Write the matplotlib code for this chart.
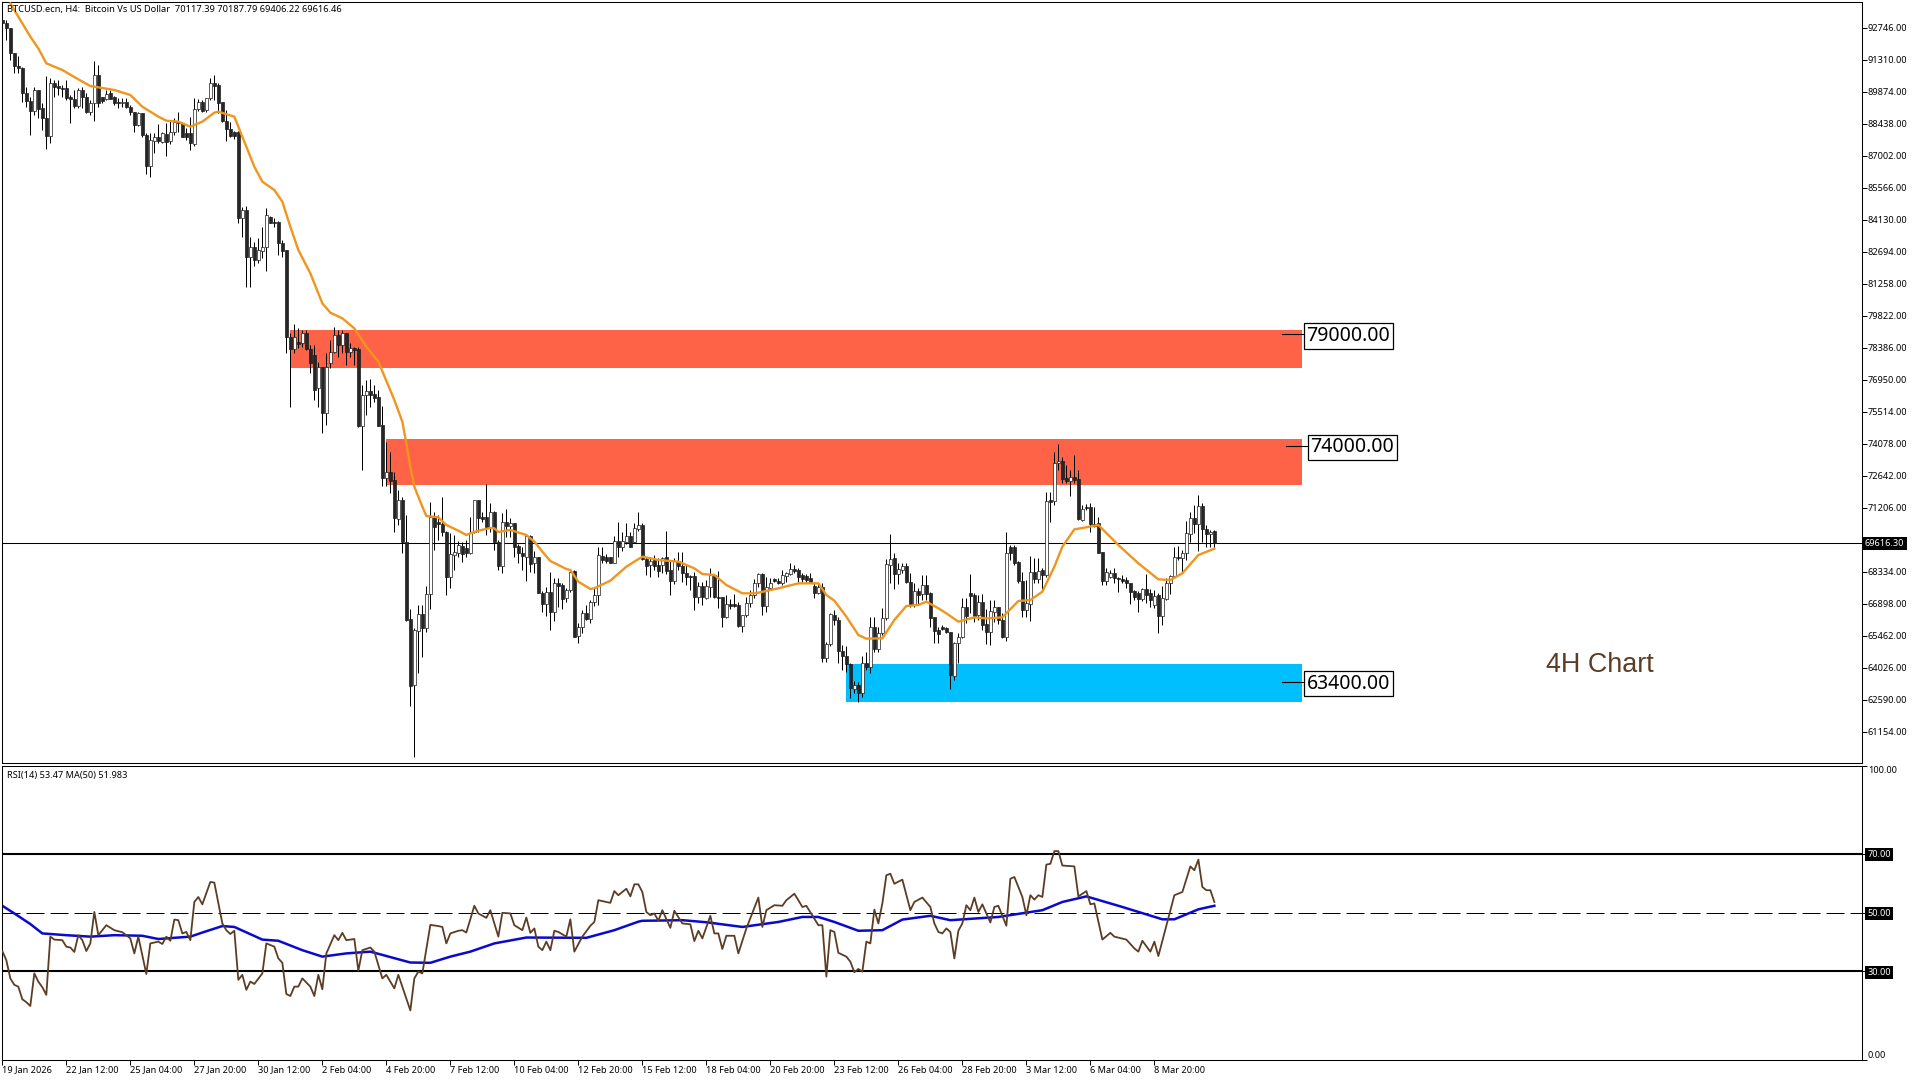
import matplotlib
matplotlib.use("Agg")
import matplotlib.pyplot as plt
from matplotlib.patches import Rectangle

plt.rcParams['font.family'] = ['Noto Sans', 'DejaVu Sans']

opens = [
    93105, 92985, 92731, 91639, 91055, 90965, 89814, 89470, 89036, 89963,
    89141, 88692, 87914, 90262, 90143, 90038, 90038, 89634, 89544, 89260,
    89963, 89634, 88991, 89365, 90622, 89634, 89544, 89814, 89664, 89425,
    89365, 89440, 89215, 88991, 88393, 88946, 87944, 86568, 87690, 87869,
    87645, 87989, 87660, 88064, 88542, 88468, 88019, 88019, 87540, 89111,
    89410, 89066, 89589, 90262, 90188, 89440, 88587, 88198, 88064, 88064,
    84204, 84578, 82484, 82933, 82335, 82754, 82933, 84279, 84055, 84055,
    83113, 82784, 78894, 78326, 78655, 78625, 79044, 78326, 78072, 76606,
    77548, 75454, 77698, 78221, 78969, 78521, 79044, 78221, 78371, 78326,
    74900, 76277, 76471, 76322, 76172, 74930, 72567, 72806, 72462, 70712,
    71565, 69695, 66210, 63263, 65701, 66434, 65806, 67331, 70787, 70577,
    70473, 70143, 68124, 69111, 69171, 69500, 69396, 69201, 70143, 71565,
    70787, 70787, 70338, 71041, 69665, 68618, 70592, 70398, 70517, 69500,
    69171, 69022, 69949, 68723, 68992, 67406, 66883, 67451, 66524, 67825,
    67735, 67152, 67526, 68394, 65462, 65850, 66479, 66210, 66972, 67301,
    69067, 68992, 68992, 68752, 69710, 69470, 69695, 69949, 69695, 70248,
    70443, 68902, 68648, 68872, 68648, 68648, 68992, 68423, 67930, 68842,
    68618, 68274, 68154, 68154, 67227, 67705, 67182, 67645, 68199, 67227,
    67227, 66329, 66883, 66898, 66853, 65925, 66404, 66928, 67286, 67825,
    68244, 66823, 67631, 68019, 67945, 67825, 68169, 68244, 68453, 68423,
    68199, 68154, 68049, 67705, 67376, 67645, 64460, 65088, 66404, 66180,
    64804, 64579, 64190, 63083, 63263, 62919, 64235, 64055, 65880, 64878,
    65581, 66254, 68648, 68947, 68244, 68423, 68603, 67900, 66853, 67481,
    67346, 67750, 67406, 66329, 65731, 65880, 65806, 65626, 63682, 65133,
    65432, 66748, 67376, 67301, 66404, 67002, 65985, 65656, 66554, 66748,
    66180, 65432, 69470, 69470, 68767, 67945, 66628, 66898, 68319, 68019,
    68423, 68199, 71565, 71520, 73240, 73330, 72537, 72417, 72612, 72492,
    70667, 71265, 71265, 70488, 70548, 69246, 67930, 68124, 68274, 68049,
    68019, 67975, 67825, 67481, 67376, 67122, 67571, 67406, 66853, 67302,
    66374, 67122, 67825, 68154, 68992, 68947, 69171, 70039, 70742, 70488,
    71295, 70248, 70039, 70173,
]
highs = [
    93329, 93105, 92731, 91639, 91489, 91010, 90113, 89664, 90113, 89963,
    89365, 90592, 90487, 90412, 90412, 90188, 90412, 89739, 89963, 90038,
    90083, 89814, 89515, 91265, 91085, 89664, 89963, 89963, 89694, 89589,
    89589, 89589, 89290, 88991, 88991, 88946, 88019, 88019, 88019, 88438,
    88094, 88468, 88587, 88692, 88991, 88542, 88243, 88767, 89589, 89559,
    89515, 89589, 90487, 90637, 90262, 89440, 89066, 88542, 88138, 88138,
    84728, 84758, 83352, 83157, 83307, 83800, 84653, 84309, 84205, 84100,
    83232, 82784, 79044, 79463, 79268, 79193, 79193, 78520, 78520, 77773,
    77548, 78146, 78745, 79343, 79193, 79193, 79044, 78595, 78446, 78446,
    76726, 76950, 76980, 76726, 76501, 75783, 74182, 73734, 72836, 72013,
    71714, 70891, 66658, 65806, 66853, 66853, 67705, 71490, 71041, 70891,
    71684, 70188, 70069, 69994, 69740, 69695, 69770, 70817, 71565, 71565,
    71041, 72268, 71445, 71086, 69770, 70966, 71146, 70742, 70547, 69590,
    69470, 69994, 69994, 69291, 68992, 67496, 67676, 68349, 68049, 68049,
    67855, 67601, 68423, 68423, 66030, 66628, 66853, 67077, 67676, 69470,
    69440, 69141, 69022, 69949, 70592, 70143, 70518, 70143, 70547, 71026,
    70547, 69022, 69022, 69096, 68947, 69022, 70174, 68872, 68947, 69246,
    69246, 68648, 68199, 68319, 67900, 67900, 67975, 68498, 68244, 68379,
    67227, 67301, 67122, 67346, 67002, 66404, 67227, 67526, 68004, 68274,
    68304, 68094, 68049, 68049, 68049, 68423, 68349, 68722, 68648, 68498,
    68274, 68244, 68274, 67900, 67825, 67825, 65207, 66479, 66628, 66329,
    65058, 65028, 64235, 63442, 63412, 64564, 64758, 66329, 66329, 65880,
    66703, 68902, 70024, 69171, 68722, 68722, 68722, 68274, 67825, 67631,
    68199, 68199, 67451, 66329, 65880, 65955, 65880, 65656, 65207, 65581,
    67152, 67152, 68229, 67406, 67301, 67331, 66658, 67077, 67077, 66778,
    66479, 70129, 69545, 69545, 68842, 68349, 67975, 69052, 68947, 68947,
    68498, 71939, 71939, 73734, 74063, 73509, 73135, 72911, 73584, 72911,
    71340, 71370, 71415, 71265, 70817, 69246, 68498, 68423, 68528, 68124,
    68199, 68124, 67825, 67526, 67496, 67601, 68229, 67556, 67526, 67376,
    67705, 68049, 68199, 69470, 69515, 69321, 70637, 71041, 71340, 71789,
    71415, 70443, 70218, 70218,
]
lows = [
    92731, 92207, 91310, 90711, 90741, 89440, 89215, 87944, 88841, 88692,
    88168, 87301, 87600, 89664, 89739, 89664, 89515, 88497, 89141, 89141,
    89141, 88916, 88841, 88587, 89215, 89365, 89515, 89544, 89290, 89141,
    89215, 89141, 88841, 88094, 88348, 87869, 86194, 86074, 87121, 87570,
    87570, 87002, 87540, 87944, 88094, 87839, 87720, 87271, 87450, 89036,
    88991, 88991, 89515, 89515, 88916, 88542, 87690, 87869, 87750, 83980,
    83382, 81138, 81138, 82080, 82185, 82410, 81856, 83980, 83830, 82559,
    82484, 78176, 75753, 78146, 78371, 78446, 78296, 77279, 76052, 75723,
    74586, 74930, 77473, 78146, 77997, 78146, 77623, 77997, 77623, 74855,
    72911, 75379, 75753, 75977, 74900, 72193, 72193, 71864, 70144, 70443,
    69171, 66150, 62336, 60017, 63787, 64505, 65656, 66658, 69321, 69770,
    69949, 67301, 67601, 68423, 69022, 68797, 69022, 69141, 70069, 70143,
    70592, 69994, 70143, 69321, 68423, 68304, 69919, 69919, 69022, 68723,
    68423, 67945, 68349, 68274, 67376, 66554, 66359, 65731, 66150, 66778,
    66658, 67002, 67451, 65402, 65133, 65581, 66180, 66030, 66808, 66853,
    68723, 68723, 68723, 68723, 69022, 69291, 69590, 69441, 69650, 70188,
    68872, 68199, 68094, 68423, 68124, 68274, 68244, 67301, 67780, 68423,
    67900, 67750, 67526, 66628, 66928, 66853, 67107, 67227, 67152, 66703,
    65880, 66254, 66658, 66748, 65880, 65626, 66329, 66778, 67152, 67676,
    66404, 66554, 67526, 67900, 67795, 67750, 67900, 68199, 68274, 67900,
    67900, 67870, 67825, 67182, 67331, 64310, 64310, 65028, 65955, 64235,
    63936, 63861, 62695, 62889, 62515, 62739, 63936, 63787, 64759, 64759,
    65507, 66180, 67825, 67556, 67795, 68274, 67825, 66778, 66778, 66853,
    67077, 67077, 65880, 65133, 65133, 65731, 65581, 63068, 63487, 64235,
    65357, 66060, 66479, 66105, 66180, 65731, 65088, 65058, 66105, 66000,
    65357, 65252, 68872, 68648, 67855, 66329, 66329, 66150, 67825, 67855,
    67451, 68124, 70592, 71340, 72911, 72312, 72312, 71759, 72312, 70667,
    70637, 71116, 70143, 70368, 69171, 67750, 67750, 68049, 67825, 67451,
    67855, 67601, 66898, 67077, 66554, 67032, 66928, 66778, 66703, 65611,
    65955, 67077, 67346, 68049, 68872, 68349, 68872, 69695, 70069, 69291,
    69695, 69470, 69441, 69396,
]
closes = [
    92955, 92731, 91639, 91055, 90965, 89814, 89470, 89036, 89963, 89111,
    88692, 87914, 90262, 90113, 90038, 89993, 89619, 89544, 89260, 89963,
    89634, 88991, 89365, 90622, 89365, 89485, 89769, 89575, 89365, 89365,
    89410, 89215, 88991, 88393, 88946, 87944, 86568, 87720, 87839, 87660,
    88019, 87645, 88064, 88542, 88497, 87869, 87839, 87570, 89111, 89410,
    89036, 89589, 90262, 90143, 89395, 88587, 88198, 87914, 87914, 84204,
    84578, 82484, 82933, 82335, 82784, 82933, 84354, 84010, 84010, 83113,
    82754, 78894, 78326, 78864, 78565, 79074, 78326, 77728, 76501, 77548,
    75454, 77548, 78221, 78969, 78521, 79044, 78221, 78401, 78296, 74900,
    76277, 76471, 76277, 76127, 74900, 72567, 72806, 72432, 70742, 71565,
    69695, 66180, 63233, 65731, 66434, 65806, 67331, 70817, 70368, 70503,
    70143, 68124, 69141, 69216, 69545, 69141, 69201, 70099, 71565, 70772,
    70697, 70368, 71041, 69665, 68618, 70592, 70398, 70517, 69470, 69171,
    69052, 69949, 68678, 68992, 67406, 66883, 67451, 66524, 67855, 67720,
    67122, 67526, 68319, 65432, 65850, 66479, 66210, 66972, 67301, 69097,
    68872, 68842, 68752, 69710, 69470, 69740, 69949, 69470, 70293, 70428,
    68902, 68618, 68842, 68618, 68394, 68947, 68394, 67930, 68842, 68618,
    68274, 68124, 68094, 67227, 67705, 67197, 67705, 68199, 67227, 67182,
    66329, 66883, 66823, 66823, 65925, 66404, 66957, 67286, 67825, 68244,
    66823, 67645, 67825, 67945, 67825, 68199, 68304, 68468, 68394, 68124,
    68004, 67975, 67855, 67376, 67645, 64460, 65103, 66449, 66180, 64804,
    64564, 64190, 63113, 63263, 62919, 64235, 64055, 65880, 64878, 65611,
    66254, 68693, 68932, 68244, 68468, 68603, 67900, 66853, 67481, 67301,
    67750, 67346, 66284, 65701, 65552, 65761, 65626, 63711, 65133, 65432,
    66748, 66359, 67272, 66329, 67002, 65955, 65656, 66584, 66748, 66180,
    65432, 69201, 69201, 68752, 67930, 66628, 66928, 68319, 68019, 68394,
    68199, 71535, 71490, 73240, 73330, 72507, 72417, 72612, 72462, 70697,
    71146, 71190, 70488, 70398, 69201, 67930, 68319, 68274, 68049, 68004,
    67945, 67825, 67451, 67197, 67122, 67571, 67302, 67077, 67257, 66374,
    67152, 67855, 68169, 68992, 68947, 69171, 70069, 70742, 70488, 71295,
    70248, 70039, 70143, 69650,
]

ma_bars = [
    2, 7, 9, 11, 15, 19, 22, 24, 28, 32, 35, 39, 41, 44, 47, 50, 53, 54, 58, 60,
    63, 65, 68, 70, 72, 74, 77, 80, 82, 85, 88, 91, 94, 98, 100, 101, 102, 103, 105, 106,
    109, 111, 114, 116, 117, 119, 122, 123, 124, 127, 131, 133, 135, 137, 141, 142, 144, 147, 148, 152,
    156, 160, 164, 169, 173, 175, 178, 181, 185, 188, 189, 194, 199, 204, 206, 208, 211, 214, 216, 220,
    223, 226, 229, 231, 234, 236, 239, 243, 246, 250, 254, 257, 260, 263, 265, 268, 271, 274, 279, 284,
    289, 292, 295, 299, 303,
]
ma_vals = [
    93852, 92357, 91833, 91160, 90861, 90442, 90143, 90083, 89963, 89739,
    89215, 88767, 88587, 88542, 88318, 88542, 88946, 88991, 88767, 87869,
    86523, 85850, 85476, 84952, 83830, 82783, 81737, 80390, 79971, 79717,
    79268, 78446, 77773, 76052, 75080, 74107, 73060, 72163, 71265, 70847,
    70787, 70443, 70188, 69994, 70069, 70188, 70308, 70293, 70129, 70218,
    69994, 69695, 69246, 68827, 68468, 68423, 67900, 67571, 67601, 67945,
    68573, 69022, 68872, 68797, 68498, 68244, 68199, 67750, 67376, 67376,
    67406, 67601, 67825, 67825, 67301, 67047, 66329, 65507, 65342, 65357,
    66180, 66808, 66853, 67002, 66703, 66479, 66105, 66299, 66254, 66299,
    67032, 67077, 67451, 68573, 69470, 70248, 70338, 70443, 69545, 68722,
    68004, 67975, 68274, 69096, 69381,
]

rsi_bars = [
    0, 1, 2, 3, 4, 5, 6, 7, 8, 9, 10, 11, 12, 13, 15, 16, 17, 18, 19, 20,
    21, 22, 23, 24, 25, 26, 28, 30, 32, 33, 34, 36, 37, 39, 40, 41, 42, 43, 44, 45,
    46, 47, 48, 49, 50, 52, 53, 55, 56, 57, 58, 59, 60, 61, 62, 63, 65, 66, 68, 69,
    70, 71, 72, 73, 74, 75, 77, 78, 79, 80, 81, 83, 84, 85, 86, 88, 89, 90, 92, 93,
    95, 96, 98, 99, 100, 102, 103, 104, 105, 107, 109, 110, 111, 112, 114, 115, 116, 118, 119, 121,
    122, 124, 125, 127, 128, 130, 131, 132, 133, 134, 135, 136, 137, 138, 139, 141, 142, 143, 145, 147,
    148, 149, 152, 153, 154, 156, 157, 158, 159, 160, 161, 162, 163, 164, 165, 167, 168, 170, 172, 173,
    174, 175, 177, 178, 179, 180, 181, 183, 184, 186, 189, 190, 191, 193, 195, 196, 198, 199, 200, 201,
    204, 205, 206, 207, 208, 209, 211, 212, 213, 214, 215, 216, 217, 218, 219, 220, 221, 222, 223, 225,
    227, 228, 230, 232, 233, 234, 235, 236, 237, 238, 239, 240, 241, 242, 243, 244, 245, 247, 248, 249,
    251, 252, 253, 255, 256, 257, 258, 259, 260, 261, 262, 263, 264, 265, 268, 269, 271, 272, 273, 275,
    277, 278, 281, 283, 284, 285, 287, 288, 289, 293, 295, 297, 298, 299, 300, 301, 302, 303,
]
rsi_vals = [
    36.9, 33.8, 27.6, 25.4, 24.8, 20.5, 19.5, 18.2, 29.3, 26.5, 24.6, 22.0, 41.8, 40.8, 40.6, 38.4, 38.1, 36.6, 42.3, 40.6,
    36.9, 39.5, 50.2, 42.3, 44.0, 45.7, 44.0, 43.3, 41.2, 36.1, 41.8, 29.1, 39.5, 40.1, 39.3, 41.8, 40.4, 47.6, 47.4, 42.9,
    43.4, 40.6, 53.6, 55.3, 52.8, 60.4, 60.2, 46.3, 44.0, 42.7, 43.8, 27.1, 28.8, 23.7, 26.5, 25.7, 29.3, 39.5, 38.4, 34.4,
    32.9, 22.3, 21.6, 24.8, 24.8, 27.6, 24.8, 21.6, 28.8, 23.9, 36.1, 42.3, 40.6, 43.1, 40.6, 41.0, 30.2, 37.2, 38.1, 36.7,
    27.6, 28.8, 24.2, 28.8, 24.8, 16.7, 27.6, 29.9, 29.3, 45.8, 45.4, 45.1, 39.5, 42.9, 43.8, 44.0, 43.2, 52.3, 49.7, 48.2,
    50.8, 41.8, 49.9, 49.7, 45.7, 44.0, 48.3, 43.1, 44.6, 38.4, 37.2, 40.1, 37.2, 43.8, 43.4, 41.8, 47.7, 36.7, 41.8, 45.5,
    46.8, 54.2, 53.3, 57.3, 55.9, 58.1, 55.5, 59.6, 59.6, 57.0, 50.2, 49.1, 49.7, 47.2, 50.8, 44.8, 50.6, 46.3, 46.0, 40.3,
    43.8, 41.2, 48.9, 42.9, 42.9, 37.6, 42.1, 42.1, 36.1, 44.6, 55.1, 45.1, 50.8, 52.5, 52.3, 54.2, 56.4, 54.2, 51.9, 52.3,
    45.7, 45.7, 28.2, 44.0, 43.4, 36.3, 35.0, 33.3, 29.7, 30.8, 29.9, 40.1, 39.5, 51.0, 46.3, 53.1, 62.7, 63.2, 59.8, 61.2,
    50.8, 53.6, 55.1, 51.9, 46.3, 43.4, 42.9, 44.6, 43.4, 34.4, 43.8, 46.3, 52.5, 50.8, 55.1, 50.2, 52.8, 46.6, 51.9, 52.3,
    45.5, 61.5, 62.1, 55.3, 49.1, 55.9, 54.4, 55.9, 55.3, 66.3, 66.6, 70.9, 70.9, 66.0, 65.7, 55.5, 57.3, 52.8, 53.1, 40.8,
    43.1, 41.8, 40.8, 37.8, 36.7, 40.4, 36.7, 40.1, 35.2, 55.9, 57.0, 65.7, 64.4, 68.0, 58.7, 57.6, 57.6, 53.6,
]

rsi_ma_bars = [
    0, 3, 7, 10, 16, 22, 28, 35, 39, 47, 50, 55, 58, 65, 69, 75, 80, 86, 92, 102,
    107, 112, 117, 123, 131, 146, 153, 159, 160, 170, 176, 185, 194, 200, 204, 208, 214, 220, 225, 232,
    237, 249, 260, 265, 271, 280, 290, 293, 299, 303,
]
rsi_ma_vals = [
    52.3, 49.7, 46.1, 42.9, 42.3, 41.8, 42.3, 42.1, 41.0, 41.8, 43.2, 45.4, 45.1, 40.8, 40.4, 37.2, 35.0, 36.1, 36.7, 33.0,
    32.9, 35.0, 36.7, 39.5, 41.5, 41.4, 44.0, 46.9, 47.2, 47.4, 46.7, 45.1, 46.8, 48.5, 48.5, 46.8, 43.8, 44.0, 47.6, 48.9,
    47.4, 48.5, 50.8, 53.6, 55.5, 51.9, 47.7, 47.7, 51.1, 52.3,
]

price_ticks = [92746, 91310, 89874, 88438, 87002, 85566, 84130, 82694, 81258, 79822, 78386, 76950,
               75514, 74078, 72642, 71206, 69770, 68334, 66898, 65462, 64026, 62590, 61154]
rsi_ticks = [0, 30, 50, 70, 100]
date_ticks = ['19 Jan 2026', '22 Jan 12:00', '25 Jan 04:00', '27 Jan 20:00', '30 Jan 12:00', '2 Feb 04:00',
              '4 Feb 20:00', '7 Feb 12:00', '10 Feb 04:00', '12 Feb 20:00', '15 Feb 12:00', '18 Feb 04:00',
              '20 Feb 20:00', '23 Feb 12:00', '26 Feb 04:00', '28 Feb 20:00', '3 Mar 12:00', '6 Mar 04:00',
              '8 Mar 20:00']

last_price = 69616.30
resistance_zones = [(72, 77466, 79193), (96, 72251, 74302)]
support_zone = (211, 62513, 64204)
zone_end = 325
levels = [(79000, 320, 325.5), (74000, 321, 326.5), (63400, 320, 325.5)]

W, H = 1920, 1080
fig = plt.figure(figsize=(W / 100, H / 100), dpi=100, facecolor='white')
ax = fig.add_axes([2 / W, 1 - 762.6 / H, 1860 / W, 760.6 / H])
ax2 = fig.add_axes([2 / W, 1 - 1059.5 / H, 1860 / W, 293.9 / H])

for a in (ax, ax2):
    a.set_xlim(-0.08, 464.9)
    for s in a.spines.values():
        s.set_linewidth(0.75)
    a.yaxis.tick_right()
    a.tick_params(axis='y', length=3.6, width=0.72, pad=0.5, labelsize=6.6)

# price pane
ax.set_ylim(94002 - 44.875 * 762.6, 94002 - 44.875 * 2)
ax.set_xticks([])
ax.set_yticks(price_ticks)
ax.set_yticklabels(['' if p == 69770 else f'{p}.00' for p in price_ticks])

for start, low, high in resistance_zones:
    ax.add_patch(Rectangle((start, low), zone_end - start, high - low, color='#FF6347', lw=0, zorder=1))
start, low, high = support_zone
ax.add_patch(Rectangle((start, low), zone_end - start, high - low, color='#00BFFF', lw=0, zorder=1))

ax.axhline(last_price, color='black', lw=0.75, zorder=2)

bars = list(range(len(opens)))
ax.vlines(bars, lows, highs, color='black', lw=0.72, zorder=3)
bottoms = [min(o, c) for o, c in zip(opens, closes)]
heights = [abs(c - o) for o, c in zip(opens, closes)]
colors = ['white' if c > o else '#262626' for o, c in zip(opens, closes)]
ax.bar(bars, heights, bottom=bottoms, width=0.6, color=colors, edgecolor='#1a1a1a', linewidth=0.5, zorder=4)
ax.plot(ma_bars, ma_vals, color='#F0951E', lw=1.7, zorder=5)

for price, line_start, box_left in levels:
    ax.plot([line_start, box_left], [price, price], color='black', lw=0.8, zorder=6)
    ax.text(box_left + 11, price + 40, f'{price}.00', fontsize=14, ha='center', va='center_baseline', zorder=7,
            bbox=dict(boxstyle='square,pad=0.14', fc='white', ec='black', lw=0.9))

ax.text(1.0016, last_price, '69616.30', transform=ax.get_yaxis_transform(), color='white', fontsize=6.6,
        va='center', ha='left', clip_on=False, zorder=8,
        bbox=dict(fc='black', ec='none', pad=1.6))

fig.text(1546 / W, 1 - 671.7 / H, '4H Chart', family='Liberation Sans', fontsize=19.4, color='#5C3D24')
fig.text(7 / W, 1 - 9.5 / H, 'BTCUSD.ecn, H4:  Bitcoin Vs US Dollar  70117.39 70187.79 69406.22 69616.46',
         fontsize=6.7, va='center')

# RSI pane
ax2.set_ylim(0, 100)
ax2.axhline(70, color='black', lw=1.5, zorder=1)
ax2.axhline(30, color='black', lw=1.5, zorder=1)
ax2.axhline(50, color='black', lw=0.72, dashes=(18, 6), zorder=1)
ax2.plot(rsi_bars, rsi_vals, color='#5C3D24', lw=1.3, zorder=3)
ax2.plot(rsi_ma_bars, rsi_ma_vals, color='#0A0ACD', lw=1.8, zorder=2)

ax2.set_yticks(rsi_ticks)
ax2.set_yticklabels([f'{v}.00' for v in rsi_ticks])
for lab, v in zip(ax2.get_yticklabels(), rsi_ticks):
    if v == 100:
        lab.set_va('top')
    elif v == 0:
        lab.set_va('bottom')
    else:
        lab.set_color('white')
        lab.set_bbox(dict(fc='black', ec='none', pad=1.6))

ax2.set_xticks(range(0, 16 * len(date_ticks), 16))
ax2.set_xticklabels(date_ticks, fontsize=6.6, ha='left')
ax2.tick_params(axis='x', length=3.6, width=0.72, pad=0.8)

ax2.text(5 / 1860, 1 - 10 / 294, 'RSI(14) 53.47 MA(50) 51.983', transform=ax2.transAxes, fontsize=6.6, va='center')

plt.savefig('out.png', dpi=100)
